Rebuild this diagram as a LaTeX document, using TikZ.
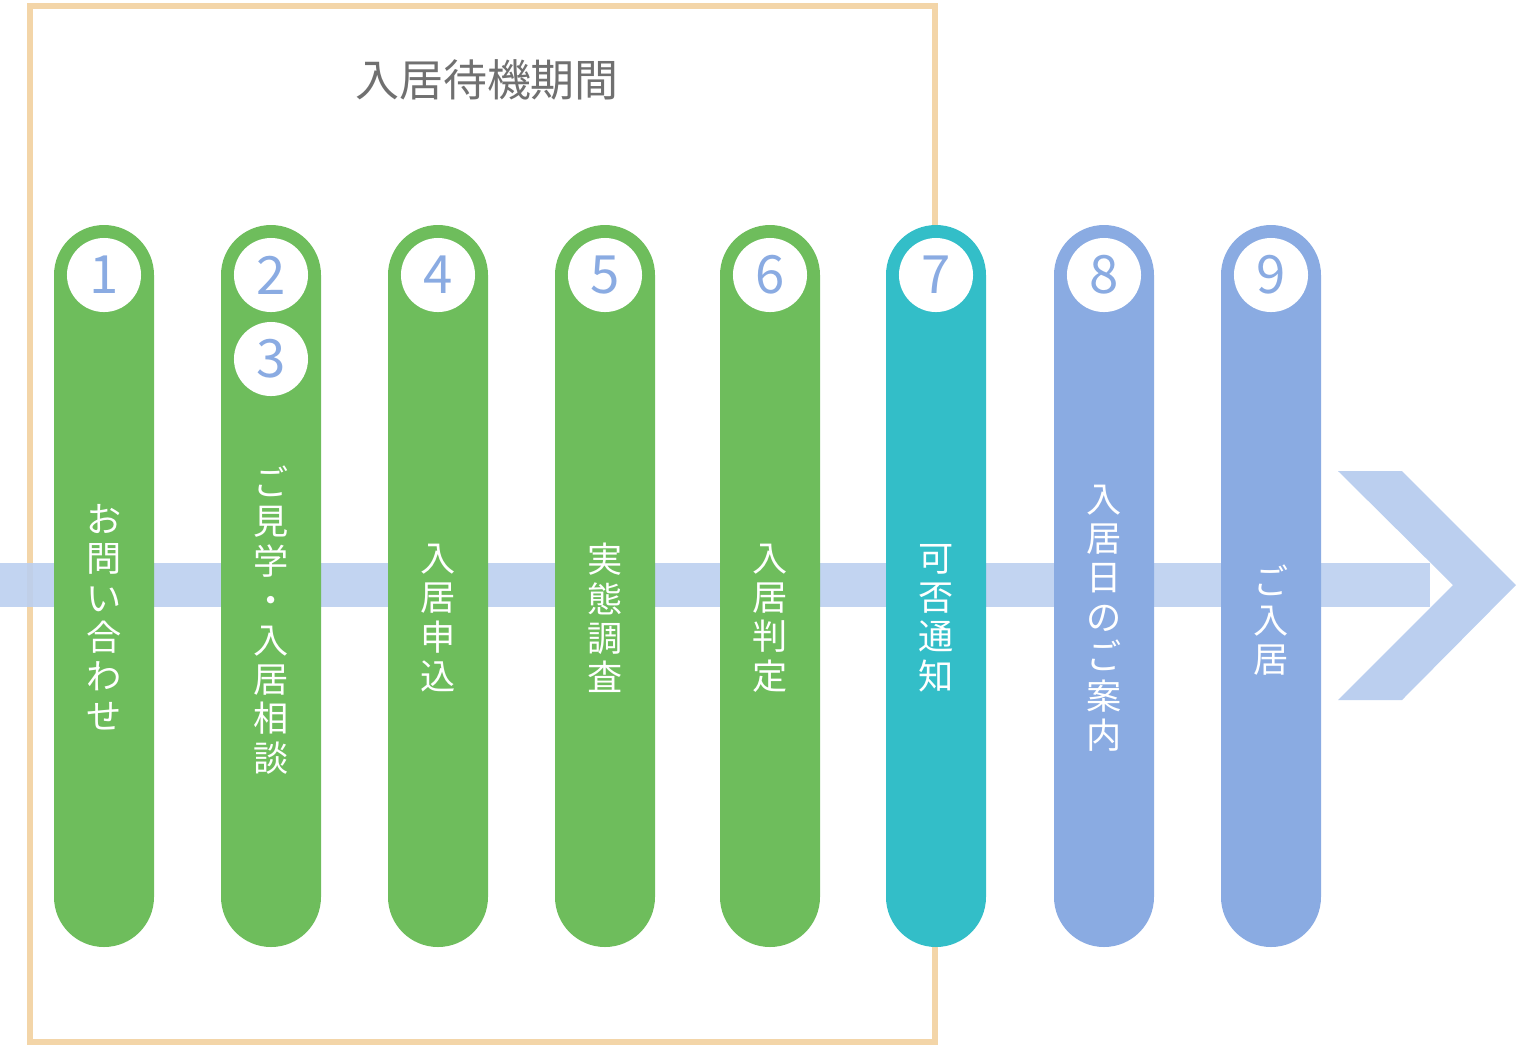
\documentclass[tikz,border=0pt]{standalone}
\usepackage{fontspec}
\setmainfont{Noto Sans CJK JP}
\usetikzlibrary{positioning}
\definecolor{framebeige}{HTML}{F3D5A8}
\definecolor{bandblue}{HTML}{BBCFEF}
\definecolor{stepgreen}{HTML}{6EBD5C}
\definecolor{stepteal}{HTML}{33BEC8}
\definecolor{stepblue}{HTML}{8AABE2}
\definecolor{titlegray}{HTML}{707070}
\tikzset{
  pill/.style={fill=#1, draw=none, rounded corners=0.5cm},
  numdot/.style={circle, fill=white, minimum size=0.74cm, inner sep=0pt,
    text=stepblue, font=\fontsize{15}{15}\selectfont},
  vlabel/.style={text=white, align=center, font=\fontsize{10}{11.2}\selectfont}
}
\begin{document}
\begin{tikzpicture}[x=0.01cm, y=-0.01cm]
    \useasboundingbox (0,0) rectangle (1520,1047);
    % Frame and title
    \draw[framebeige, line width=0.06cm] (30,6) rectangle (935,1042);
    \node[text=titlegray, font=\fontsize{12.5}{13}\selectfont] (title) at (487,80) {入居待機期間};
    % Band and arrow
    \fill[bandblue, opacity=0.9] (0,563) rectangle (1430,607);
    \fill[bandblue] (1338,471) -- (1402,471) -- (1516,585) -- (1402,700)
        -- (1338,700) -- (1453,585) -- cycle;
    % Steps
    \foreach \x/\c [count=\i] in {104/stepgreen, 271/stepgreen, 438/stepgreen,
        605/stepgreen, 770/stepgreen, 936/stepteal, 1104/stepblue, 1271/stepblue}
      \fill[pill=\c] (\x-50,225) rectangle (\x+50,947);
    \foreach \x/\n [count=\i] in {104/1, 271/2, 438/4, 605/5, 770/6, 936/7, 1104/8, 1271/9}
      \node[numdot] (n\i) at (\x,275) {\n};
    \node[numdot] (n3) at (271,359) {3};
    % Labels
    \node[vlabel] (l1) at (104,617) {お\\問\\い\\合\\わ\\せ};
    \node[vlabel] (l2) at (271,620) {ご\\見\\学\\・\\入\\居\\相\\談};
    \node[vlabel] (l4) at (438,618) {入\\居\\申\\込};
    \node[vlabel] (l5) at (605,618) {実\\態\\調\\査};
    \node[vlabel] (l6) at (770,618) {入\\居\\判\\定};
    \node[vlabel] (l7) at (936,618) {可\\否\\通\\知};
    \node[vlabel] (l8) at (1104,618) {入\\居\\日\\の\\ご\\案\\内};
    \node[vlabel] (l9) at (1271,620) {ご\\入\\居};
\end{tikzpicture}
\end{document}
